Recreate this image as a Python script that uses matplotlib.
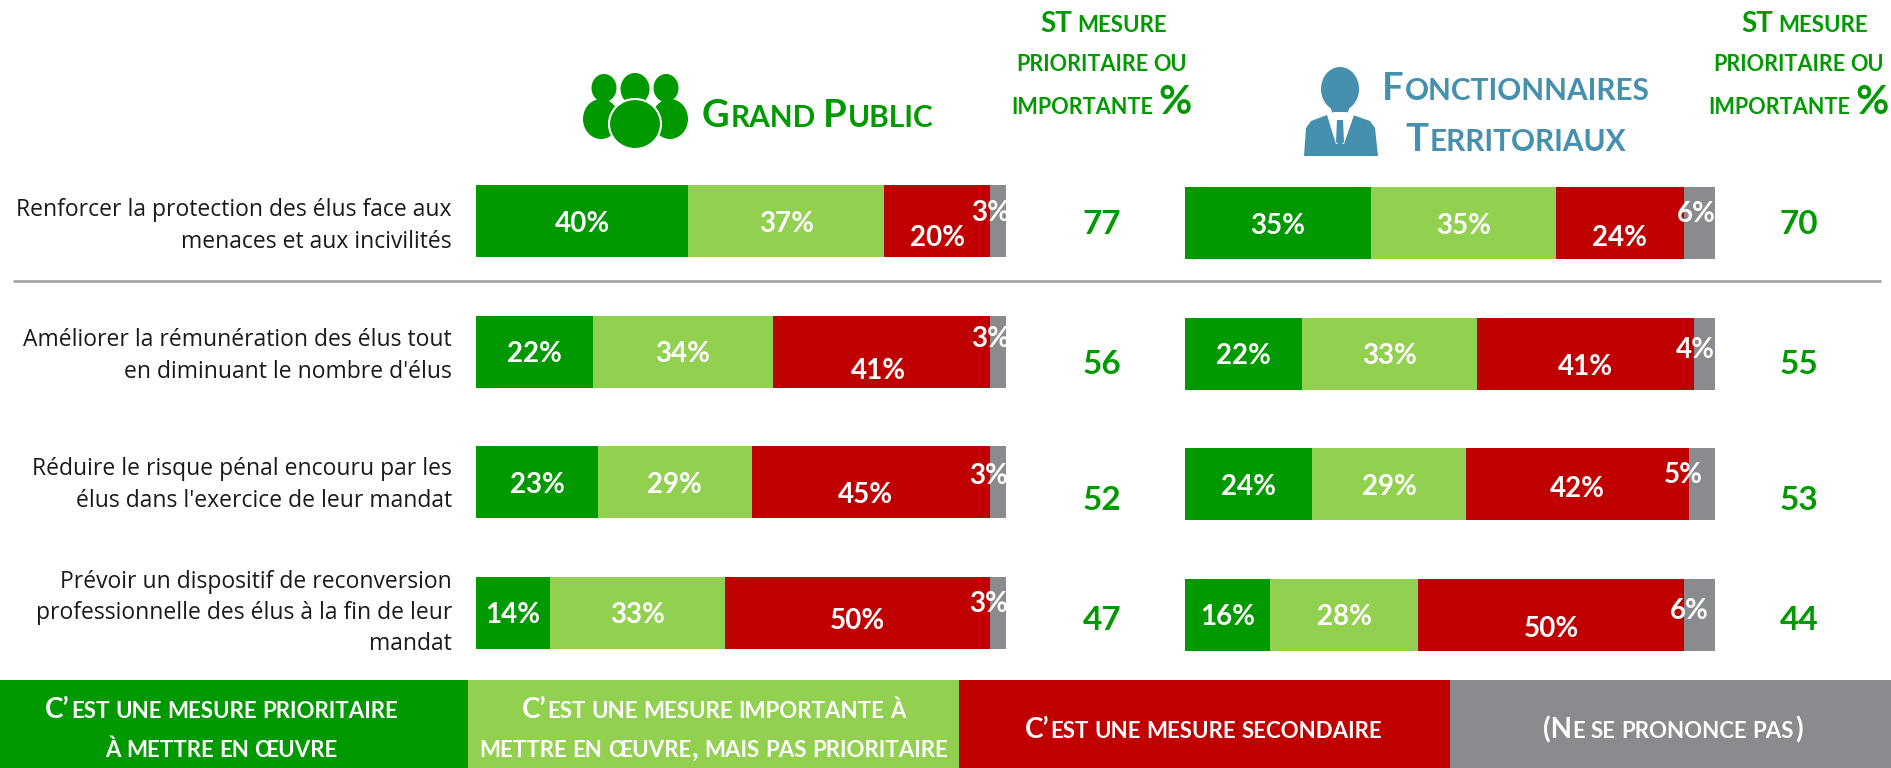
import matplotlib
matplotlib.use("Agg")
import matplotlib.pyplot as plt
import numpy as np
from matplotlib.patches import Ellipse, Polygon, Rectangle

plt.rcParams["font.family"] = ["Lato", "DejaVu Sans"]

categories = [
    "Renforcer la protection des élus face aux\nmenaces et aux incivilités",
    "Améliorer la rémunération des élus tout\nen diminuant le nombre d'élus",
    "Réduire le risque pénal encouru par les\nélus dans l'exercice de leur mandat",
    "Prévoir un dispositif de reconversion\nprofessionnelle des élus à la fin de leur\nmandat",
]

public_prio = [40, 22, 23, 14]
public_imp = [37, 34, 29, 33]
public_sec = [20, 41, 45, 50]
public_nsp = [3, 3, 3, 3]
public_total = [77, 56, 52, 47]

fonct_prio = [35, 22, 24, 16]
fonct_imp = [35, 33, 29, 28]
fonct_sec = [24, 41, 42, 50]
fonct_nsp = [6, 4, 5, 6]
fonct_total = [70, 55, 53, 44]

legend_labels = [
    ["C’est une mesure prioritaire", "à mettre en œuvre"],
    ["C’est une mesure importante à", "mettre en œuvre, mais pas prioritaire"],
    ["C’est une mesure secondaire"],
    ["(Ne se prononce pas)"],
]

GREEN = "#009900"
LIGHT = "#92D050"
RED = "#C00000"
GREY = "#898B8E"
BLUE = "#458FAF"
colors = [GREEN, LIGHT, RED, GREY]

# hand placed label shifts, the labels are not centred in the original
public_sec_shift = [(0, 0.11), (-0.7, 0.13), (-1.1, 0.08), (0, 0.04)]
public_nsp_shift = [(-1.4, -0.08), (-1.4, -0.12), (-1.9, -0.07), (-1.9, -0.09)]
fonct_sec_shift = [(0, 0.09), (0, 0.08), (0, 0.02), (0, 0.09)]
fonct_nsp_shift = [(-0.5, -0.09), (-1.8, -0.05), (-3.6, -0.09), (-2, -0.05)]

fig = plt.figure(figsize=(18.91, 7.68), dpi=100)
W, H = 1891, 768


def panel(x0, x1, y0, y1):
    ax = fig.add_axes([x0 / W, 1 - y1 / H, (x1 - x0) / W, (y1 - y0) / H])
    ax.set_xlim(0, 100.5)
    ax.set_ylim(3.5, -0.5)
    ax.axis("off")
    return ax


def draw_bars(ax, series, sec_shift, nsp_shift):
    ypos = np.arange(len(categories))
    left = np.zeros(len(categories))
    for s, (vals, col) in enumerate(zip(series, colors)):
        vals = np.array(vals)
        ax.barh(ypos, vals, left=left, height=0.555, color=col, linewidth=0)
        for i, v in enumerate(vals):
            dx, dy = 0, 0
            if s == 2:
                dx, dy = sec_shift[i]
            if s == 3:
                dx, dy = nsp_shift[i]
            ax.text(left[i] + v / 2 + dx, i + dy + 0.02, f"{v}%", color="white",
                    fontsize=20, fontweight="bold", ha="center", va="center",
                    clip_on=True, zorder=5)
        left = left + vals


ax_pub = panel(476, 1009, 156, 678)
ax_fon = panel(1185, 1718, 158, 680)
draw_bars(ax_pub, [public_prio, public_imp, public_sec, public_nsp],
          public_sec_shift, public_nsp_shift)
draw_bars(ax_fon, [fonct_prio, fonct_imp, fonct_sec, fonct_nsp],
          fonct_sec_shift, fonct_nsp_shift)

# overlay in pixel coordinates for everything around the bars
ov = fig.add_axes([0, 0, 1, 1], zorder=-1)
ov.set_xlim(0, W)
ov.set_ylim(H, 0)
ov.axis("off")
renderer = fig.canvas.get_renderer()


def small_caps(cx, base, text, size, color, ratio=0.8, pct=1.0):
    """Fake small caps: lowercase letters are drawn as smaller capitals."""
    parts = []
    x = 0
    gap = 0.16 * size * 100 / 72
    for word in text.split(" "):
        i = 0
        while i < len(word):
            j = i
            low = word[i].islower()
            while j < len(word) and word[j].islower() == low:
                j += 1
            fs = size * ratio if low else size
            chunk = word[i:j].upper()
            if chunk == "%":
                fs = size * pct
            t = ov.text(0, base, chunk, fontsize=fs, fontweight="bold",
                        color=color, ha="left", va="baseline")
            w = t.get_window_extent(renderer).width
            parts.append((t, x))
            x += w + 1
            i = j
        x += gap
    x -= gap
    for t, off in parts:
        t.set_x(cx - x / 2 + off)


# category labels
for cat, yc in zip(categories, [226, 356, 485, 613]):
    ov.text(452, yc, cat, family="Open Sans", fontsize=16.5, color="#1A1A1A",
            ha="right", va="center", linespacing=1.39)

# separator
ov.plot([13, 1881], [281, 281], color="#A6A6A6", lw=2, solid_capstyle="butt")

# totals
for val, yc in zip(public_total, [225, 365, 500, 621]):
    ov.text(1102, yc, str(val), color=GREEN, fontsize=24, fontweight="bold",
            ha="center", va="center")
for val, yc in zip(fonct_total, [225, 365, 500, 621]):
    ov.text(1799, yc, str(val), color=GREEN, fontsize=24, fontweight="bold",
            ha="center", va="center")

# headers
small_caps(818, 127, "Grand Public", 27.5, GREEN, ratio=0.78)
small_caps(1516, 100, "Fonctionnaires", 27.5, BLUE, ratio=0.78)
small_caps(1516, 151, "Territoriaux", 27.5, BLUE, ratio=0.78)
for cx in [1102, 1799]:
    small_caps(cx + 2 if cx < 1500 else cx + 6, 32, "ST mesure", 20, GREEN)
    small_caps(cx, 71, "prioritaire ou", 19.5, GREEN)
    small_caps(cx, 114, "importante %", 19.5, GREEN, pct=1.5)

# group icon
for cx in [604, 666]:
    ov.add_patch(Ellipse((cx, 88), 25, 28, color=GREEN, lw=0))
ov.add_patch(Ellipse((601, 119), 36, 40, color=GREEN, lw=0))
ov.add_patch(Ellipse((670, 119), 36, 40, color=GREEN, lw=0))
ov.add_patch(Ellipse((635, 89), 29, 32, color=GREEN, lw=0))
ov.add_patch(Ellipse((635, 124), 52, 50, facecolor=GREEN, edgecolor="white", lw=1.5))

# person icon
ov.add_patch(Ellipse((1340, 89), 38, 44, color=BLUE, lw=0))
ov.add_patch(Polygon([(1328, 100), (1352, 100), (1346, 118), (1334, 118)],
                     closed=True, color=BLUE, lw=0))
ov.add_patch(Polygon([(1304, 156), (1306, 128), (1311, 121), (1327, 115),
                      (1353, 115), (1370, 121), (1375, 128), (1378, 156)],
                     closed=True, color=BLUE, lw=0))
ov.add_patch(Polygon([(1327, 115), (1336, 144), (1344, 144), (1354, 115), (1346, 112),
                      (1334, 112)], closed=True, color="white", lw=0))
ov.add_patch(Polygon([(1337, 120), (1343, 120), (1344, 142), (1340, 146), (1336, 142)],
                     closed=True, color=BLUE, lw=0))

# legend boxes
box_edges = [0, 468, 959, 1450, 1891]
for i, lines in enumerate(legend_labels):
    ov.add_patch(Rectangle((box_edges[i], 680), box_edges[i + 1] - box_edges[i], 88,
                           color=colors[i], lw=0))
    cx = [222, 714, 1204, 1673][i]
    bases = [718, 757] if len(lines) == 2 else [738]
    for line, base in zip(lines, bases):
        small_caps(cx, base, line, 20, "white", ratio=0.8)

fig.savefig("out.png", dpi=100, facecolor="white")
